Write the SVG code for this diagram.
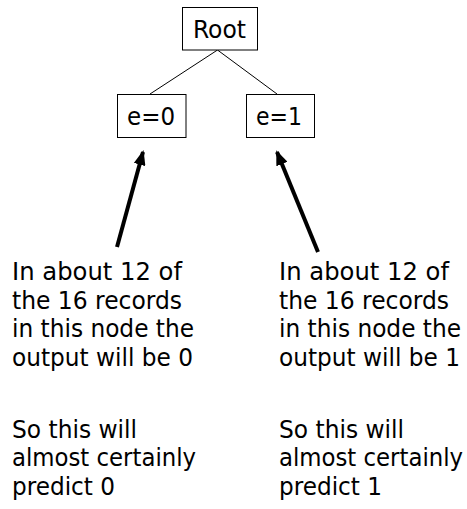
<svg xmlns="http://www.w3.org/2000/svg" width="467" height="509" viewBox="0 0 467 509">
  <style>
    .box { fill: #ffffff; stroke: #000000; stroke-width: 1; }
    .label { font-family: "DejaVu Sans Condensed", "DejaVu Sans", sans-serif; font-stretch: condensed; font-size: 25px; fill: #000000; }
    .edge { stroke: #000000; stroke-width: 1; fill: none; }
    .pointer { stroke: #000000; stroke-width: 4; fill: none; marker-end: url(#head); }
  </style>
  <defs>
    <marker id="head" markerUnits="userSpaceOnUse" markerWidth="15" markerHeight="12" refX="13" refY="6" orient="auto">
      <path d="M0,0 L15,6 L0,12 Z" fill="#000000"/>
    </marker>
  </defs>
  <rect width="467" height="509" fill="#ffffff"/>

  <!-- tree edges and the two pointers -->
  <g id="connectors">
    <line class="edge" x1="217.5" y1="50" x2="150" y2="94"/>
    <line class="edge" x1="217.5" y1="50" x2="277" y2="94"/>
    <line class="pointer" x1="117" y1="247" x2="143" y2="152"/>
    <line class="pointer" x1="318" y1="252" x2="277" y2="152"/>
  </g>

  <g id="root">
    <rect class="box" x="182.5" y="7.5" width="75" height="42.5"/>
    <text class="label" x="219.5" y="38" text-anchor="middle" textLength="53" lengthAdjust="spacingAndGlyphs">Root</text>
  </g>

  <g id="e0">
    <rect class="box" x="117.5" y="94.5" width="68.5" height="43"/>
    <text class="label" x="151" y="125" text-anchor="middle" textLength="48" lengthAdjust="spacingAndGlyphs">e=0</text>
  </g>

  <g id="e1">
    <rect class="box" x="246.5" y="94.5" width="68" height="43"/>
    <text class="label" x="279" y="125" text-anchor="middle" textLength="46" lengthAdjust="spacingAndGlyphs">e=1</text>
  </g>

  <g id="note-e0">
    <text class="label" x="12" y="280" textLength="170" lengthAdjust="spacingAndGlyphs">In about 12 of</text>
    <text class="label" x="12" y="308.5" textLength="170" lengthAdjust="spacingAndGlyphs">the 16 records</text>
    <text class="label" x="12" y="337" textLength="182" lengthAdjust="spacingAndGlyphs">in this node the</text>
    <text class="label" x="12" y="365.5" textLength="181" lengthAdjust="spacingAndGlyphs">output will be 0</text>
    <text class="label" x="12" y="437.5" textLength="125" lengthAdjust="spacingAndGlyphs">So this will</text>
    <text class="label" x="12" y="466" textLength="184" lengthAdjust="spacingAndGlyphs">almost certainly</text>
    <text class="label" x="12" y="494.5" textLength="103" lengthAdjust="spacingAndGlyphs">predict 0</text>
  </g>

  <g id="note-e1">
    <text class="label" x="279" y="280" textLength="170" lengthAdjust="spacingAndGlyphs">In about 12 of</text>
    <text class="label" x="279" y="308.5" textLength="170" lengthAdjust="spacingAndGlyphs">the 16 records</text>
    <text class="label" x="279" y="337" textLength="182" lengthAdjust="spacingAndGlyphs">in this node the</text>
    <text class="label" x="279" y="365.5" textLength="181" lengthAdjust="spacingAndGlyphs">output will be 1</text>
    <text class="label" x="279" y="437.5" textLength="125" lengthAdjust="spacingAndGlyphs">So this will</text>
    <text class="label" x="279" y="466" textLength="184" lengthAdjust="spacingAndGlyphs">almost certainly</text>
    <text class="label" x="279" y="494.5" textLength="103" lengthAdjust="spacingAndGlyphs">predict 1</text>
  </g>
</svg>
